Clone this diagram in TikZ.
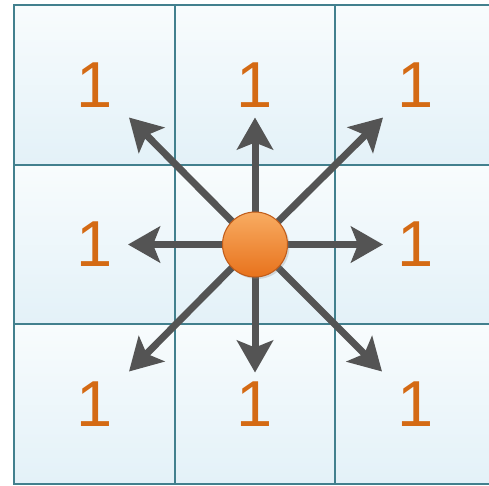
\documentclass[tikz,border=0pt]{standalone}
\usepackage{fontspec}
\setmainfont{Liberation Sans}
\usetikzlibrary{arrows.meta,positioning,shadows}
\definecolor{gridline}{RGB}{66,128,142}
\definecolor{celltop}{RGB}{248,252,253}
\definecolor{cellbottom}{RGB}{227,241,248}
\definecolor{numorange}{RGB}{212,106,20}
\definecolor{balltop}{RGB}{248,172,98}
\definecolor{ballbottom}{RGB}{232,114,28}
\definecolor{ballrim}{RGB}{192,92,26}
\definecolor{spokegray}{RGB}{84,84,84}

\begin{document}
\begin{tikzpicture}[x=0.02cm, y=-0.02cm, node distance=0pt,
    cell/.style={draw=gridline, line width=1.1pt, top color=celltop, bottom color=cellbottom,
      minimum width=3.214cm, minimum height=3.194cm, inner sep=0pt, outer sep=0pt,
      font=\fontsize{37}{37}\selectfont, text=numorange},
    spoke/.style={draw=spokegray, line width=0.14cm,
      -{Stealth[length=0.64cm, width=0.72cm, inset=0.14cm]}}]
    \useasboundingbox (0,0) rectangle (489,485);

    % grid of cells
    \node[cell] (mm) at (255,244.5) {};
    \node[cell, left=of mm] (ml) {1};
    \node[cell, right=of mm] (mr) {1};
    \node[cell, above=of mm] (tm) {1};
    \node[cell, below=of mm] (bm) {1};
    \node[cell, left=of tm] (tl) {1};
    \node[cell, right=of tm] (tr) {1};
    \node[cell, left=of bm] (bl) {1};
    \node[cell, right=of bm] (br) {1};

    % arrow tips
    \path (mm.center) ++(0,-127) coordinate (tipN);
    \path (mm.center) ++(0,128) coordinate (tipS);
    \path (mm.center) ++(-127,0) coordinate (tipW);
    \path (mm.center) ++(128,0) coordinate (tipE);
    \path (mm.center) ++(-126,-127) coordinate (tipNW);
    \path (mm.center) ++(128,-127) coordinate (tipNE);
    \path (mm.center) ++(-126,127) coordinate (tipSW);
    \path (mm.center) ++(127,127) coordinate (tipSE);

    \draw[spoke] (mm.center) -- (tipN);
    \draw[spoke] (mm.center) -- (tipS);
    \draw[spoke] (mm.center) -- (tipW);
    \draw[spoke] (mm.center) -- (tipE);
    \draw[spoke] (mm.center) -- (tipNW);
    \draw[spoke] (mm.center) -- (tipNE);
    \draw[spoke] (mm.center) -- (tipSW);
    \draw[spoke] (mm.center) -- (tipSE);

    \node[circle, minimum size=1.3cm, top color=balltop, bottom color=ballbottom,
      draw=ballrim, line width=0.6pt,
      drop shadow={opacity=0.25, shadow xshift=0.04cm, shadow yshift=-0.04cm}] (ball) at (mm) {};
  \end{tikzpicture}
\end{document}
